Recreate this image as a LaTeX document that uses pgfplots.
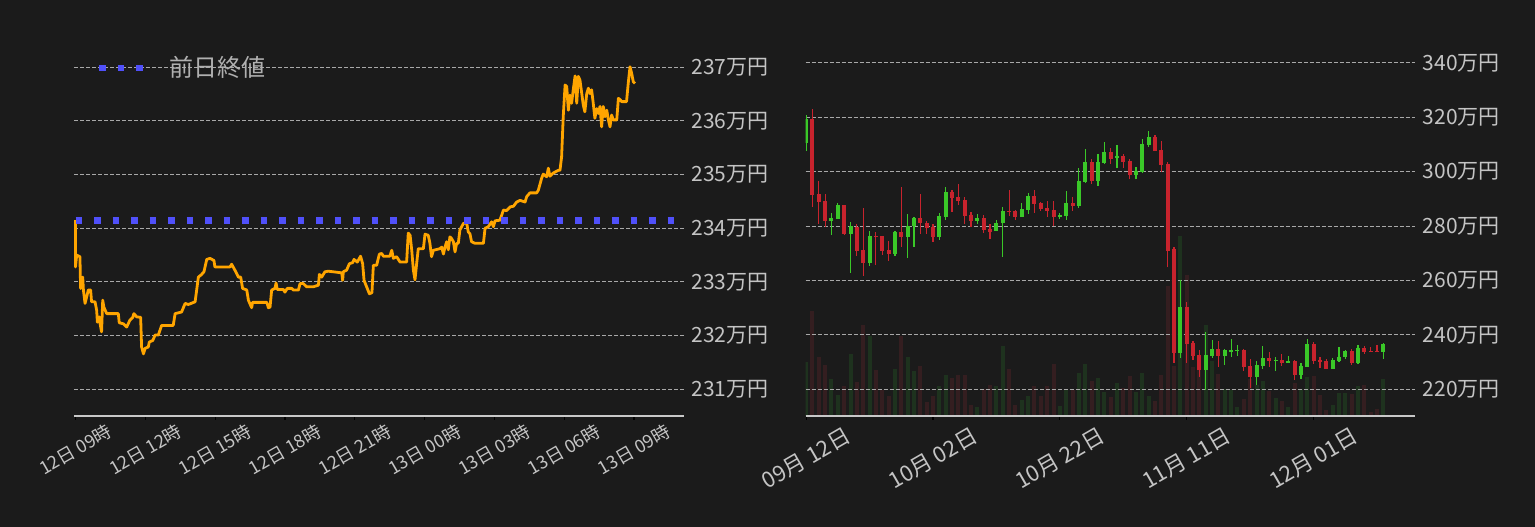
\documentclass[border=0pt]{standalone}
\usepackage{pgfplots}
\pgfplotsset{compat=1.18}
\usepackage{pgfplotstable}
\usepackage{fontspec}
\setmainfont{Noto Sans CJK JP}

\definecolor{bg}{HTML}{1B1B1B}
\definecolor{labc}{HTML}{C4C4C4}
\definecolor{legc}{HTML}{B0B0B0}
\definecolor{axc}{HTML}{C8C8C8}
\definecolor{gridc}{HTML}{A8A8A8}
\definecolor{pricec}{HTML}{FFA500}
\definecolor{closec}{RGB}{80,80,250}
\definecolor{upc}{RGB}{58,200,40}
\definecolor{downc}{RGB}{200,35,45}
\definecolor{volup}{RGB}{30,50,30}
\definecolor{voldown}{RGB}{52,30,32}

% intraday price, hours after 12日 09時
\pgfplotstableread{
h v
0.00 234.15
0.00 233.28
0.05 233.50
0.19 233.47
0.22 232.88
0.31 233.09
0.34 232.85
0.41 232.60
0.48 232.72
0.55 232.85
0.65 232.85
0.69 232.63
0.84 232.63
0.91 232.47
0.94 232.25
1.02 232.35
1.05 232.24
1.12 232.07
1.17 232.66
1.22 232.53
1.34 232.41
1.84 232.41
1.88 232.24
2.06 232.22
2.20 232.16
2.34 232.29
2.46 232.34
2.51 232.41
2.63 232.35
2.80 232.34
2.84 231.79
2.92 231.66
2.99 231.76
3.13 231.79
3.17 231.88
3.32 231.91
3.42 232.01
3.56 232.01
3.70 232.19
4.20 232.19
4.28 232.41
4.56 232.44
4.71 232.60
4.85 232.58
5.14 232.63
5.28 233.09
5.42 233.14
5.52 233.19
5.64 233.42
5.78 233.44
5.95 233.40
5.99 233.28
6.64 233.28
6.71 233.33
6.85 233.22
7.00 233.09
7.10 233.09
7.18 232.88
7.36 232.85
7.43 232.66
7.57 232.52
7.61 232.62
8.22 232.62
8.29 232.52
8.36 232.53
8.43 232.85
8.57 232.88
8.62 232.98
8.67 232.86
8.93 232.86
9.00 232.81
9.10 232.88
9.29 232.88
9.36 232.85
9.58 232.85
9.65 232.97
9.79 232.97
9.93 232.91
10.22 232.91
10.44 232.94
10.48 233.14
10.58 233.09
10.72 233.19
10.87 233.20
11.44 233.17
11.48 233.03
11.51 233.19
11.65 233.22
11.77 233.34
11.91 233.36
11.97 233.42
12.11 233.37
12.25 233.48
12.34 233.34
12.40 233.03
12.51 232.91
12.63 232.78
12.74 232.80
12.80 233.31
12.94 233.31
13.06 233.52
13.16 233.53
13.23 233.48
13.51 233.48
13.59 233.59
13.66 233.44
13.80 233.47
13.95 233.37
14.23 233.37
14.30 233.91
14.38 233.87
14.45 233.59
14.52 233.22
14.59 233.04
14.66 233.34
14.73 233.62
14.95 233.62
15.02 233.89
15.16 233.87
15.23 233.72
15.30 233.47
15.38 233.59
15.66 233.62
15.74 233.65
15.81 233.52
15.88 233.65
15.95 233.75
16.02 233.60
16.09 233.84
16.16 233.81
16.24 233.75
16.31 233.56
16.38 233.72
16.45 233.72
16.52 233.97
16.67 234.09
16.81 234.10
16.88 233.93
16.95 233.90
17.02 233.75
17.17 233.72
17.53 233.72
17.60 234.00
17.74 234.03
17.88 234.12
17.96 234.03
18.03 234.14
18.24 234.15
18.39 234.34
18.53 234.33
18.68 234.40
18.82 234.41
18.96 234.49
19.10 234.52
19.32 234.49
19.39 234.59
19.53 234.66
19.82 234.66
19.89 234.71
20.03 234.93
20.10 235.01
20.25 234.96
20.32 235.12
20.39 234.97
20.53 235.03
20.75 235.08
20.82 235.08
20.89 235.33
20.96 236.08
21.04 236.67
21.11 236.64
21.18 236.20
21.25 236.48
21.32 236.33
21.39 236.58
21.47 236.84
21.54 236.33
21.61 236.83
21.68 236.76
21.82 236.30
21.89 236.17
21.97 236.51
22.04 236.61
22.11 236.51
22.18 236.58
22.25 236.33
22.32 236.05
22.40 236.23
22.47 236.14
22.54 236.27
22.61 235.89
22.68 236.27
22.76 236.08
22.83 236.20
22.90 236.02
22.97 235.89
23.04 236.11
23.11 236.02
23.26 236.02
23.33 236.42
23.40 236.40
23.47 236.36
23.68 236.36
23.76 236.73
23.83 237.01
23.90 236.89
23.97 236.73
24.04 236.70
}\price

% daily candles, days after 09月 12日: open high low close volume
\pgfplotstableread{
d o h l c v
0 310.7 320.9 307.7 319.3 161
4 282.0 284.8 276.9 283.0 110
5 282.7 288.4 282.7 287.8 62
7 277.2 281.5 262.9 280.0 185
10 266.6 278.2 265.5 276.4 239
14 269.9 278.3 269.1 277.8 140
16 276.1 284.5 268.4 280.0 176
17 280.0 283.4 272.5 283.0 134
21 276.1 284.8 275.0 283.7 89
22 283.5 294.4 282.4 292.5 122
27 282.0 284.5 280.9 283.0 26
30 278.3 282.3 278.3 281.2 89
31 281.0 287.0 268.8 285.6 209
34 283.5 288.5 283.5 286.3 47
35 286.1 292.2 284.6 291.1 59
40 283.5 284.8 282.7 284.1 29
41 283.8 292.9 282.4 288.5 77
43 287.5 301.4 286.8 296.6 128
44 296.3 308.4 296.0 303.6 155
46 296.7 306.5 294.9 303.6 113
47 303.3 310.9 303.0 307.3 72
49 305.1 309.8 301.3 305.7 97
52 298.8 301.7 297.2 300.2 70
53 299.8 312.0 299.5 310.2 127
54 309.9 315.0 309.1 312.7 58
59 233.4 260.3 231.6 250.4 538
63 227.1 241.2 219.8 232.7 271
64 232.3 238.2 231.6 234.9 163
66 232.3 234.9 229.0 234.5 80
67 233.8 238.6 231.9 234.5 78
68 234.3 236.4 232.3 234.5 26
71 224.6 230.5 221.6 229.0 91
72 228.6 236.0 227.5 231.6 103
74 230.6 231.9 226.8 230.8 52
76 229.7 232.3 229.7 230.5 25
78 225.3 229.7 223.8 228.6 79
79 228.2 238.6 228.2 236.7 115
83 227.5 231.6 227.5 230.8 31
84 230.5 235.6 230.1 231.9 67
85 231.9 234.5 231.2 234.1 67
87 229.7 236.4 229.3 235.3 88
91 233.8 237.1 231.2 236.7 109
}\up

\pgfplotstableread{
d o h l c v
1 319.3 323.1 287.2 291.6 314
2 291.8 296.6 280.9 289.0 177
3 289.2 291.8 279.8 282.0 152
6 287.8 287.8 276.9 277.2 89
8 279.8 280.8 269.1 271.0 101
9 271.2 286.7 261.8 266.6 272
11 276.4 277.8 265.8 276.1 137
12 276.4 276.4 269.5 271.0 77
13 271.2 274.5 267.3 269.9 59
15 277.8 294.4 272.5 276.1 239
18 283.0 291.8 277.2 281.3 149
19 281.0 281.9 277.2 279.4 41
20 279.7 280.8 274.3 276.1 59
23 292.5 293.3 285.3 290.5 113
24 290.7 295.5 287.9 289.4 122
25 289.6 290.7 280.9 283.8 122
26 284.1 285.2 279.8 282.0 32
28 283.0 284.1 277.6 278.7 80
29 278.9 280.8 275.4 278.0 92
32 285.6 293.3 283.7 285.3 140
33 285.6 285.9 282.4 283.5 32
36 291.1 293.3 285.0 288.3 89
37 288.5 288.9 285.7 286.4 59
38 286.7 289.2 283.5 285.7 89
39 285.9 289.2 280.0 283.5 155
42 288.5 290.7 285.7 287.5 77
45 303.6 304.7 295.6 296.7 104
48 307.3 308.7 303.0 304.8 56
50 305.7 306.5 301.3 303.6 82
51 303.9 304.6 297.2 298.8 118
55 312.7 313.5 307.6 307.6 43
56 307.9 311.3 299.8 302.4 122
57 302.8 303.5 264.8 271.0 389
58 271.4 272.2 229.7 233.4 150
60 250.4 252.2 229.7 236.7 422
61 237.1 237.8 230.8 232.3 146
62 232.7 234.5 224.6 227.1 150
65 234.9 237.8 228.2 232.3 125
69 234.5 234.9 226.8 228.2 50
70 228.6 231.2 220.5 224.6 111
73 231.6 233.8 228.2 230.5 73
75 230.8 233.0 228.6 229.7 43
77 230.5 230.8 223.4 225.3 97
80 236.7 237.5 229.3 230.5 118
81 230.8 231.9 227.9 230.1 61
82 230.5 231.2 227.5 227.5 16
86 234.1 234.9 229.0 229.7 64
88 235.3 236.0 233.0 233.8 91
89 234.1 235.6 233.9 233.9 10
90 234.1 236.4 233.9 233.9 19
}\down

\pgfplotsset{
  darkax/.style={
    scale only axis, anchor=south west,
    width=304.9bp, height=178.1bp,
    axis x line*=bottom, axis y line*=right,
    x axis line style={draw=axc, line width=1bp, -},
    y axis line style={draw=none},
    ymajorgrids,
    grid style={draw=gridc, line width=0.5bp, dash pattern=on 2bp off 1bp},
    tick align=outside, major tick length=2bp,
    xtick style={draw=black, line width=0.6bp},
    ytick style={draw=none},
    yticklabel style={font=\fontsize{10.5bp}{12bp}\selectfont, text=labc,
      inner sep=0pt, xshift=1.5bp},
  },
  wick/.style={draw=none, mark=none, forget plot,
    error bars/.cd, y dir=plus, y explicit,
    error mark=none, error bar style={draw=#1, line width=0.6bp}},
  body/.style={draw=none, mark=none, forget plot,
    error bars/.cd, y dir=plus, y explicit,
    error mark=none, error bar style={draw=#1, line width=2bp}},
}

\begin{document}
\begin{tikzpicture}
\useasboundingbox (0,0) rectangle (767.5bp,263.5bp);
\fill[bg] (0,0) rectangle (767.5bp,263.5bp);

% intraday chart
\begin{axis}[darkax,
    at={(37.1bp,55.65bp)},
    xmin=-0.056, xmax=26.15,
    ymin=230.508, ymax=237.145,
    xtick={0,3,...,24},
    xticklabels={12日 09時,12日 12時,12日 15時,12日 18時,12日 21時,
                 13日 00時,13日 03時,13日 06時,13日 09時},
    xticklabel style={font=\fontsize{9bp}{11bp}\selectfont, text=labc,
      yshift=-15bp, rotate=30, anchor=center},
    ytick={231,...,237},
    yticklabels={231万円,232万円,233万円,234万円,235万円,236万円,237万円},
    legend style={at={(axis description cs:0.035,0.976)}, anchor=west,
      draw=none, fill=none, inner sep=0pt, text=legc,
      font=\fontsize{12bp}{14bp}\selectfont},
    legend image code/.code={
      \draw[#1] (0bp,0bp) -- (21.85bp,0bp);
      \path[draw=none] (0bp,0bp) -- (33bp,0bp);},
]
\addplot[pricec, line width=1.4bp, line join=round, forget plot]
  table[x=h, y=v] {\price};
\addplot[closec, line width=3.35bp, dash pattern=on 3.35bp off 5.9bp]
  coordinates {(0,234.15) (26.15,234.15)};
\addlegendentry{前日終値}
\end{axis}

% daily volume (drawn below the candles)
\begin{axis}[scale only axis, anchor=south west,
    at={(402.8bp,55.65bp)}, width=304.9bp, height=178.1bp,
    hide axis, xmin=-0.08, xmax=96.05, ymin=0, ymax=1069]
\addplot[ycomb, draw=volup, line width=2bp, mark=none] table[x=d, y=v] {\up};
\addplot[ycomb, draw=voldown, line width=2bp, mark=none] table[x=d, y=v] {\down};
\end{axis}

% daily candles
\begin{axis}[darkax,
    at={(402.8bp,55.65bp)},
    xmin=-0.08, xmax=96.05,
    ymin=210.3, ymax=341.25,
    xtick={0,20,40,60,80},
    xticklabels={09月 12日,10月 02日,10月 22日,11月 11日,12月 01日},
    xticklabel style={font=\fontsize{11bp}{13bp}\selectfont, text=labc,
      yshift=-19.5bp, rotate=30, anchor=center},
    ytick={220,240,...,340},
    yticklabels={220万円,240万円,260万円,280万円,300万円,320万円,340万円},
]
\addplot[wick=upc] table[x=d, y=l, y error expr=\thisrow{h}-\thisrow{l}] {\up};
\addplot[wick=downc] table[x=d, y=l, y error expr=\thisrow{h}-\thisrow{l}] {\down};
\addplot[body=upc] table[x=d, y=o, y error expr=\thisrow{c}-\thisrow{o}] {\up};
\addplot[body=downc] table[x=d, y=c, y error expr=\thisrow{o}-\thisrow{c}] {\down};
\end{axis}
\end{tikzpicture}
\end{document}
